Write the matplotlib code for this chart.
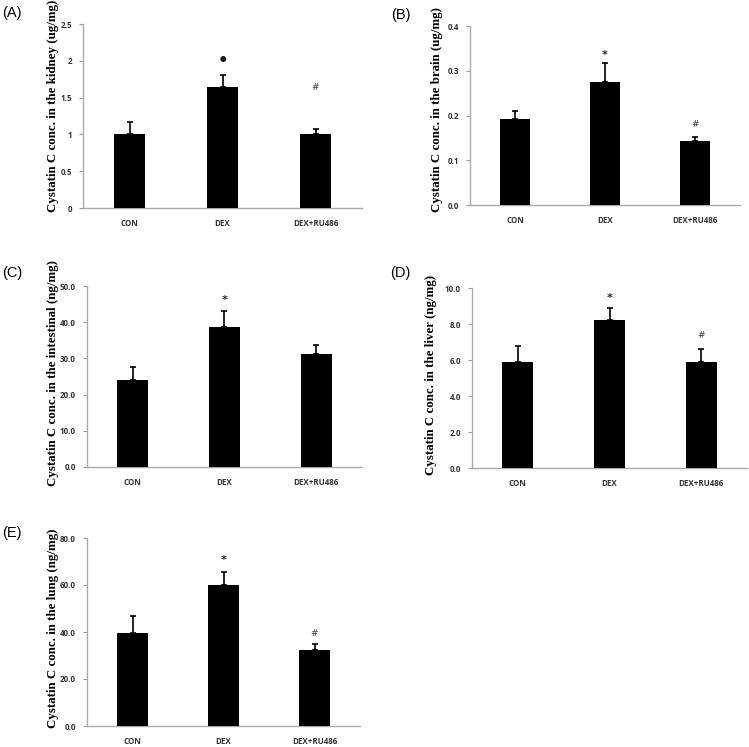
import matplotlib
matplotlib.use("Agg")
import matplotlib.pyplot as plt

W, H = 749, 747

groups = ["CON", "DEX", "DEX+RU486"]

kidney = [1.0, 1.65, 1.0]
kidney_err = [0.17, 0.16, 0.07]
brain = [0.193, 0.275, 0.142]
brain_err = [0.018, 0.042, 0.011]
intestinal = [24.0, 38.6, 31.1]
intestinal_err = [3.6, 4.5, 2.6]
liver = [5.87, 8.2, 5.87]
liver_err = [0.89, 0.67, 0.74]
lung = [39.6, 59.9, 32.3]
lung_err = [7.1, 5.7, 2.4]

# marks above bars: (group index, y, symbol)
kidney_marks = [(1, 2.0, "\u2022"), (2, 1.64, "#")]
brain_marks = [(1, 0.336, "*"), (2, 0.179, "#")]
intestinal_marks = [(1, 46.1, "*")]
liver_marks = [(1, 9.44, "*"), (2, 7.35, "#")]
lung_marks = [(1, 70.5, "*"), (2, 39.4, "#")]

panels = [
    # tag, values, err, marks, ymax, ystep, fmt, ylabel, axes box px, tag pos, ylabel (x, center y)
    ("(A)", kidney, kidney_err, kidney_marks, 2.5, 0.5, "{:g}",
     "Cystatin C conc. in the kidney (ug/mg)", (83, 24, 362, 208), (2, 13), (53, 106)),
    ("(B)", brain, brain_err, brain_marks, 0.4, 0.1, "{:.1f}",
     "Cystatin C conc. in the brain (ug/mg)", (470, 26, 740, 205), (391, 15), (437, 109)),
    ("(C)", intestinal, intestinal_err, intestinal_marks, 50, 10, "{:.1f}",
     "Cystatin C conc. in the intestinal (ng/mg)", (87, 286, 362, 467), (2, 273), (53, 373)),
    ("(D)", liver, liver_err, liver_marks, 10, 2, "{:.1f}",
     "Cystatin C conc. in the liver (ng/mg)", (472, 288, 747, 468), (390, 273), (431, 375)),
    ("(E)", lung, lung_err, lung_marks, 80, 20, "{:.1f}",
     "Cystatin C conc. in the lung (ng/mg)", (87, 538, 360, 726), (2, 533), (53, 628)),
]

fig = plt.figure(figsize=(W / 100, H / 100), dpi=100)

for tag, vals, err, marks, ymax, ystep, fmt, ylabel, box, tagpos, lab in panels:
    l, t, r, b = box
    ax = fig.add_axes([l / W, 1 - b / H, (r - l) / W, (b - t) / H])
    x = range(len(groups))
    ax.bar(x, vals, width=0.34, color="black", zorder=3)
    ax.errorbar(x, vals, yerr=[[0] * len(err), err], fmt="none", ecolor="black",
                elinewidth=1.2, capsize=2.5, capthick=1.2, zorder=2)
    for i, y, s in marks:
        if s == "#":
            ax.text(i, y, s, ha="center", va="center", fontsize=6.5, color="#333333")
        elif s == "*":
            ax.text(i, y, s, ha="center", va="center", fontsize=8,
                    fontweight="bold", color="#222222")
        else:
            ax.text(i, y, s, ha="center", va="center", fontsize=12,
                    fontweight="bold", color="#111111")
    ax.set_xlim(-0.5, 2.5)
    ax.set_ylim(0, ymax)
    ticks = [ystep * k for k in range(int(round(ymax / ystep)) + 1)]
    ax.set_yticks(ticks)
    ax.set_yticklabels([fmt.format(v) for v in ticks], fontsize=5.8,
                       fontweight="bold", color="#333333", family="Open Sans")
    ax.set_xticks(list(x))
    ax.set_xticklabels(groups, fontsize=5.8, fontweight="bold", color="#333333",
                       family="Open Sans")
    ax.tick_params(axis="x", length=0, pad=8)
    ax.tick_params(axis="y", length=3, width=0.8, color="#999999", pad=5)
    for side in ["top", "right"]:
        ax.spines[side].set_visible(False)
    for side in ["left", "bottom"]:
        ax.spines[side].set_color("#aaaaaa")
        ax.spines[side].set_linewidth(1.0)
    fig.text(lab[0] / W, 1 - lab[1] / H, ylabel, rotation=90, ha="center",
             va="center", fontsize=9.3, fontweight="bold", family="Liberation Serif")
    fig.text(tagpos[0] / W, 1 - tagpos[1] / H, tag, ha="left", va="center",
             fontsize=10.5, family="Liberation Sans")

fig.savefig("out.png", dpi=100)
